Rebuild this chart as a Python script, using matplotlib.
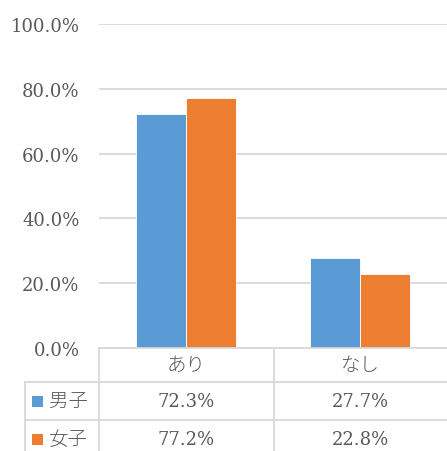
import matplotlib
matplotlib.use("Agg")
import matplotlib.pyplot as plt
import matplotlib.transforms as mtransforms
from matplotlib.lines import Line2D
from matplotlib.patches import Rectangle
import numpy as np

categories = ["あり", "なし"]
series_names = ["男子", "女子"]
male = [72.3, 27.7]
female = [77.2, 22.8]
yticks = [0, 20, 40, 60, 80, 100]
colors = ["#5b9bd5", "#ed7d31"]
text_color = "#595959"
grid_color = "#d9d9d9"

plt.rcParams['font.family'] = ['DejaVu Serif', 'Noto Sans CJK JP']
num_font = 13
cjk_font = 14

W, H = 447, 452
fig = plt.figure(figsize=(W / 100, H / 100), dpi=100)

def fx(px):
    return px / W

def fy(py):
    return 1 - py / H

left, right, top, bottom = 99, 447, 25, 349
ax = fig.add_axes([fx(left), fy(bottom), fx(right) - fx(left), fy(top) - fy(bottom)])

x = np.arange(len(categories))
w = 0.287
ax.bar(x - w / 2, male, w, color=colors[0], edgecolor="white", linewidth=0.6, zorder=3)
ax.bar(x + w / 2, female, w, color=colors[1], edgecolor="white", linewidth=0.6, zorder=3)

ax.set_xlim(-0.5, len(categories) - 0.5)
ax.set_ylim(0, 100)
ax.set_yticks(yticks)
ax.set_yticklabels([f"{v:.1f}%" for v in yticks], color=text_color, fontsize=num_font)
ax.tick_params(axis="y", length=0, pad=14)
ax.set_xticks([])
ax.yaxis.grid(True, color=grid_color, linewidth=1.3, zorder=0)
for s in ax.spines.values():
    s.set_visible(False)

# data table below the axes
lc = grid_color
lw = 1.3
def line(x0, y0, x1, y1):
    fig.add_artist(Line2D([fx(x0), fx(x1)], [fy(y0), fy(y1)], color=lc, linewidth=lw))

line(99, 349, 447, 349)
line(99, 349, 99, 452)
mid_px = 274
line(mid_px, 349, mid_px, 452)
line(25, 383, 447, 383)
line(25, 421, 447, 421)
line(25, 383, 25, 452)

trans = mtransforms.blended_transform_factory(ax.transData, fig.transFigure)
for i, c in enumerate(categories):
    fig.text(x[i], fy(366), c, transform=trans, ha="center", va="center",
             color=text_color, fontsize=cjk_font, fontweight="light")
rows = [male, female]
row_y = [402, 440]
for r, (vals, name, col, ry) in enumerate(zip(rows, series_names, colors, row_y)):
    fig.add_artist(Rectangle((fx(32), fy(ry + 5.5)), fx(11), 11 / H, transform=fig.transFigure,
                             facecolor=col, edgecolor="none"))
    fig.text(fx(49), fy(ry), name, ha="left", va="center", color=text_color,
             fontsize=cjk_font, fontweight="light")
    for i, v in enumerate(vals):
        fig.text(x[i], fy(ry), f"{v:.1f}%", transform=trans, ha="center", va="center",
                 color=text_color, fontsize=num_font)

fig.savefig("out.png", dpi=100)
